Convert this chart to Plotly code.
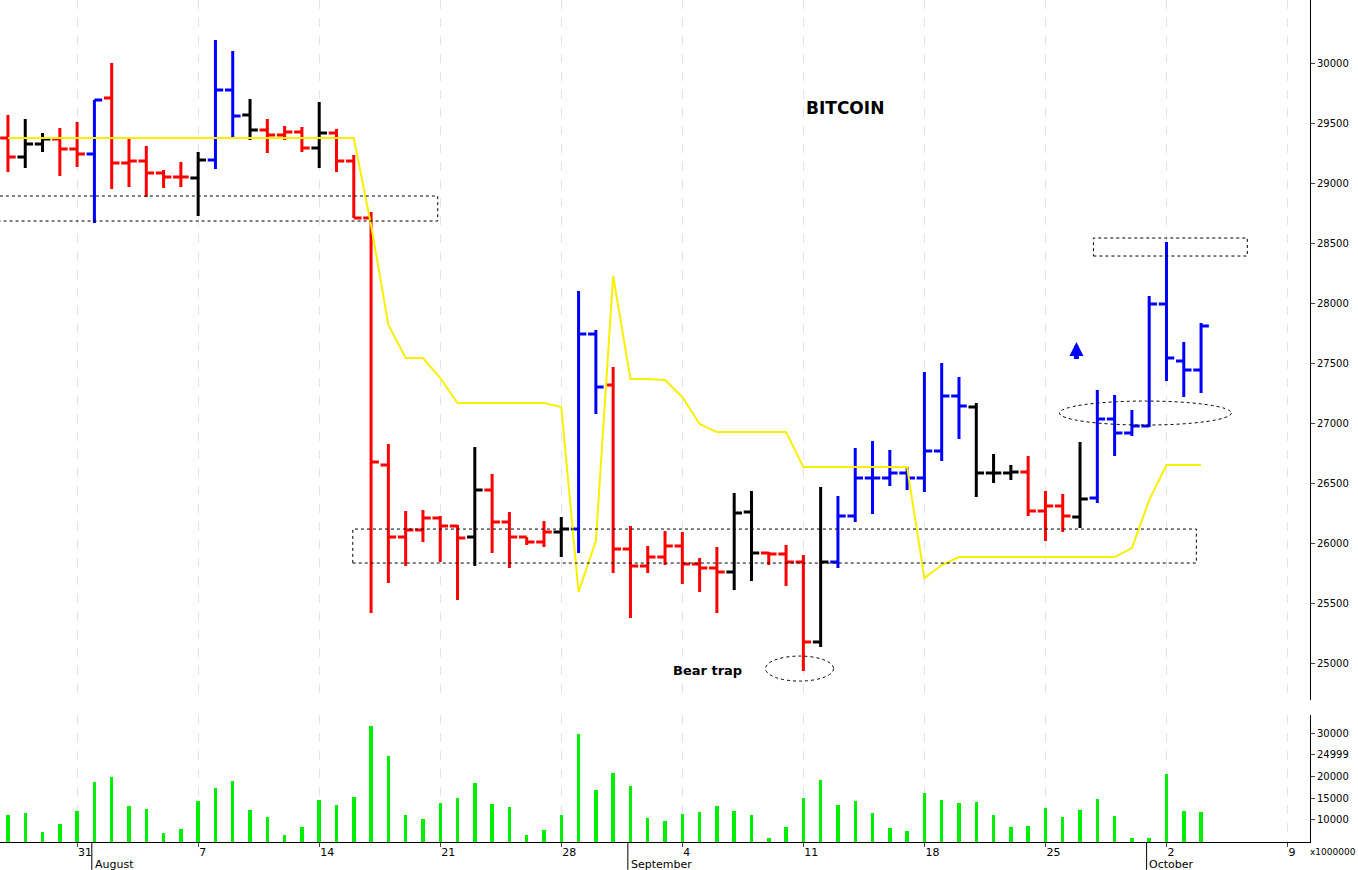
import plotly.graph_objects as go

opens  = [29375,29217,29325,29367,29283,29242,29708,29167,29183,29083,29050,29042,29192,29775,29567,29442,29400,29425,29292,29417,29183,
          28708,26650,26050,26108,26208,26142,26050,26442,26175,26050,26008,26092,26117,27742,27317,25950,25808,25883,25975,25825,25792,
          25758,26258,25917,25908,25842,25175,25842,26225,26542,26542,26583,26542,26767,27225,27133,26583,26583,26592,26267,26308,26217,
          26375,27033,26917,26975,27992,27517,27442]
highs  = [29567,29533,29417,29458,29508,29692,30000,29383,29308,29108,29175,29258,30192,30100,29700,29533,29475,29467,29675,29450,29233,
          28758,26825,26267,26275,26225,26150,26800,26575,26258,26050,26183,26217,28100,27775,27467,26142,25975,26100,26092,25875,25967,
          26417,26433,25925,25983,25900,26467,26392,26792,26850,26775,26633,27425,27500,27383,27167,26742,26650,26725,26433,26408,26842,
          27275,27233,27108,28058,28508,27675,27833]
lows   = [29092,29125,29258,29058,29133,28667,28950,28967,28883,28958,28967,28725,29117,29383,29358,29250,29358,29258,29125,29092,28708,
          25417,25667,25808,26008,25842,25525,25808,25917,25792,25983,25967,25883,25917,27075,25750,25375,25750,25817,25658,25592,25417,
          25608,25683,25817,25642,24933,25133,25792,26175,26242,26475,26442,26425,26683,26867,26383,26500,26525,26225,26017,26092,26125,
          26333,26725,26892,26967,27350,27217,27250]
closes = [29217,29325,29367,29283,29242,29692,29167,29183,29083,29050,29050,29192,29775,29558,29442,29400,29425,29292,29417,29183,28708,
          26675,26050,26108,26208,26142,26042,26442,26175,26050,26008,26092,26117,27742,27300,25950,25808,25883,25975,25825,25792,25758,
          26250,25917,25908,25842,25175,25842,26225,26542,26542,26583,26542,26767,27225,27142,26583,26583,26592,26267,26308,26225,26367,
          27033,26917,26975,27992,27542,27442,27808]
bar_colors = list("RBBRRURRRRRBUUBRRRBRR" "RRRRRRBRRRRBUURRRRRRRBBRRRBU" "UUUUUUU" "BBB" "RRR" "B" "UUUUUUU")
stop_line = ([29375] * 21 +
             [28650, 27817, 27542, 27542, 27375, 27167, 27167, 27167, 27167, 27167, 27167, 27133, 25592, 26017, 28225,
              27367, 27367, 27358, 27217, 26992, 26925, 26925, 26925, 26925, 26925, 26633] +
             [26633] * 6 + [25708, 25817, 25883] + [25883] * 9 + [25958, 26358, 26650, 26650, 26650])
volume = [11150,11600,7240,9080,12070,18740,19890,13220,12530,7010,7930,14370,17360,18970,12300,10690,6550,8390,14600,13450,15290,
          31620,24720,11150,10230,13910,15060,18510,13680,12990,6550,7700,11150,29780,16900,20810,17820,10460,9770,11380,11840,13220,
          12070,11150,5860,8390,15060,19200,13450,14370,11610,8160,7470,16210,14600,13910,14140,11150,8390,8620,12760,10690,12300,
          14830,10920,5860,5860,20580,12070,11840]
price_ticks = [25000, 25500, 26000, 26500, 27000, 27500, 28000, 28500, 29000, 29500, 30000]
vol_ticks = [10000, 15000, 20000, 24999, 30000]
week_ticks = [4, 11, 18, 25, 32, 39, 46, 53, 60, 67, 74]
week_labels = ["31", "7", "14", "21", "28", "4", "11", "18", "25", "2", "9"]
month_starts = [5, 36, 66]
month_names = ["August", "September", "October"]

n = len(opens)
xs = list(range(n))
cmap = {"R": "#ff0000", "B": "#000000", "U": "#0000ff"}
fig = go.Figure()
for key, col in cmap.items():
    idx = [i for i in range(n) if bar_colors[i] == key]
    fig.add_trace(go.Ohlc(x=[xs[i] for i in idx], open=[opens[i] for i in idx], high=[highs[i] for i in idx],
                          low=[lows[i] for i in idx], close=[closes[i] for i in idx], tickwidth=0.45,
                          increasing=dict(line=dict(color=col, width=3)), decreasing=dict(line=dict(color=col, width=3)),
                          showlegend=False, hoverinfo="skip"))
fig.add_trace(go.Scatter(x=xs, y=stop_line, mode="lines", line=dict(color="#f8f000", width=2), showlegend=False))
fig.add_trace(go.Bar(x=xs, y=volume, width=0.2, marker=dict(color="#00ee00", line_width=0), xaxis="x2", yaxis="y2", showlegend=False))

xr = [-0.46, 75.3]
grid = dict(showgrid=True, gridcolor="#e2e2ee", griddash="dash", gridwidth=1)
fig.update_layout(
    width=1358, height=870, margin=dict(l=0, r=48, t=0, b=28), plot_bgcolor="white", paper_bgcolor="white",
    font=dict(family="DejaVu Sans", size=11, color="black"),
    xaxis=dict(range=xr, domain=[0, 1], anchor="y", tickvals=week_ticks, showticklabels=False, rangeslider=dict(visible=False),
               zeroline=False, **grid),
    xaxis2=dict(range=xr, domain=[0, 1], anchor="y2", matches="x", tickvals=week_ticks, ticktext=week_labels, ticks="outside",
                ticklen=4, ticklabelposition="outside right", showline=True, linecolor="black", zeroline=False,
                tickfont=dict(size=11), **grid),
    yaxis=dict(domain=[0.1686, 1], range=[24692, 30525], side="right", tickvals=price_ticks,
               ticktext=[str(v) for v in price_ticks], tickfont=dict(size=10),
               ticks="outside", ticklen=4, showline=True, linecolor="black", showgrid=False, zeroline=False),
    yaxis2=dict(domain=[0, 0.1508], range=[4940, 34140], side="right", tickvals=vol_ticks,
                ticktext=[str(v) for v in vol_ticks], tickfont=dict(size=10), ticks="outside", ticklen=4, showline=True,
                linecolor="black", showgrid=False, zeroline=False),
    bargap=0,
)

def px2i(px):
    return (px - 8) / 17.3
def py2p(py):
    return 30000 - (py - 63) * 500 / 60

dash = dict(color="black", width=1, dash="dot")
fig.add_shape(type="rect", x0=-0.6, x1=px2i(438), y0=py2p(221), y1=py2p(196), line=dash)
fig.add_shape(type="rect", x0=px2i(353), x1=px2i(1197), y0=py2p(563), y1=py2p(529), line=dash)
fig.add_shape(type="rect", x0=px2i(1094), x1=px2i(1248), y0=py2p(256), y1=py2p(238), line=dash)
fig.add_shape(type="circle", x0=px2i(766), x1=px2i(834), y0=py2p(681), y1=py2p(656), line=dash)
fig.add_shape(type="circle", x0=px2i(1060), x1=px2i(1232), y0=py2p(425), y1=py2p(401), line=dash)

fig.add_annotation(x=px2i(845), y=py2p(108), text="<b>BITCOIN</b>", showarrow=False, font=dict(size=17, family="DejaVu Sans"))
fig.add_annotation(x=px2i(708), y=py2p(670), text="<b>Bear trap</b>", showarrow=False, font=dict(size=13, family="DejaVu Sans"))
fig.add_shape(type="line", x0=px2i(1077), x1=px2i(1077), y0=py2p(359), y1=py2p(349), line=dict(color="#0000ff", width=5))
fig.add_annotation(x=px2i(1077), y=py2p(342), ax=px2i(1077), ay=py2p(352), axref="x", ayref="y", text="",
                   showarrow=True, arrowhead=2, arrowsize=0.7, arrowwidth=4, arrowcolor="#0000ff")
fig.add_annotation(x=1.0365, y=-0.004, xref="paper", yref="paper", text="x1000000", showarrow=False,
                   xanchor="right", yanchor="top", font=dict(size=9))

for ms, name in zip(month_starts, month_names):
    fig.add_shape(type="line", xref="x2", yref="paper", x0=ms - 0.15, x1=ms - 0.15, y0=0, y1=-0.033, line=dict(color="black", width=1))
    fig.add_annotation(x=ms - 0.1, y=-0.017, xref="x2", yref="paper", text=name, showarrow=False,
                       xanchor="left", yanchor="top", font=dict(size=11))

fig.write_html("out.html", config={"displayModeBar": False},
               post_script="document.body.style.margin='0';document.body.style.overflow='hidden';")
